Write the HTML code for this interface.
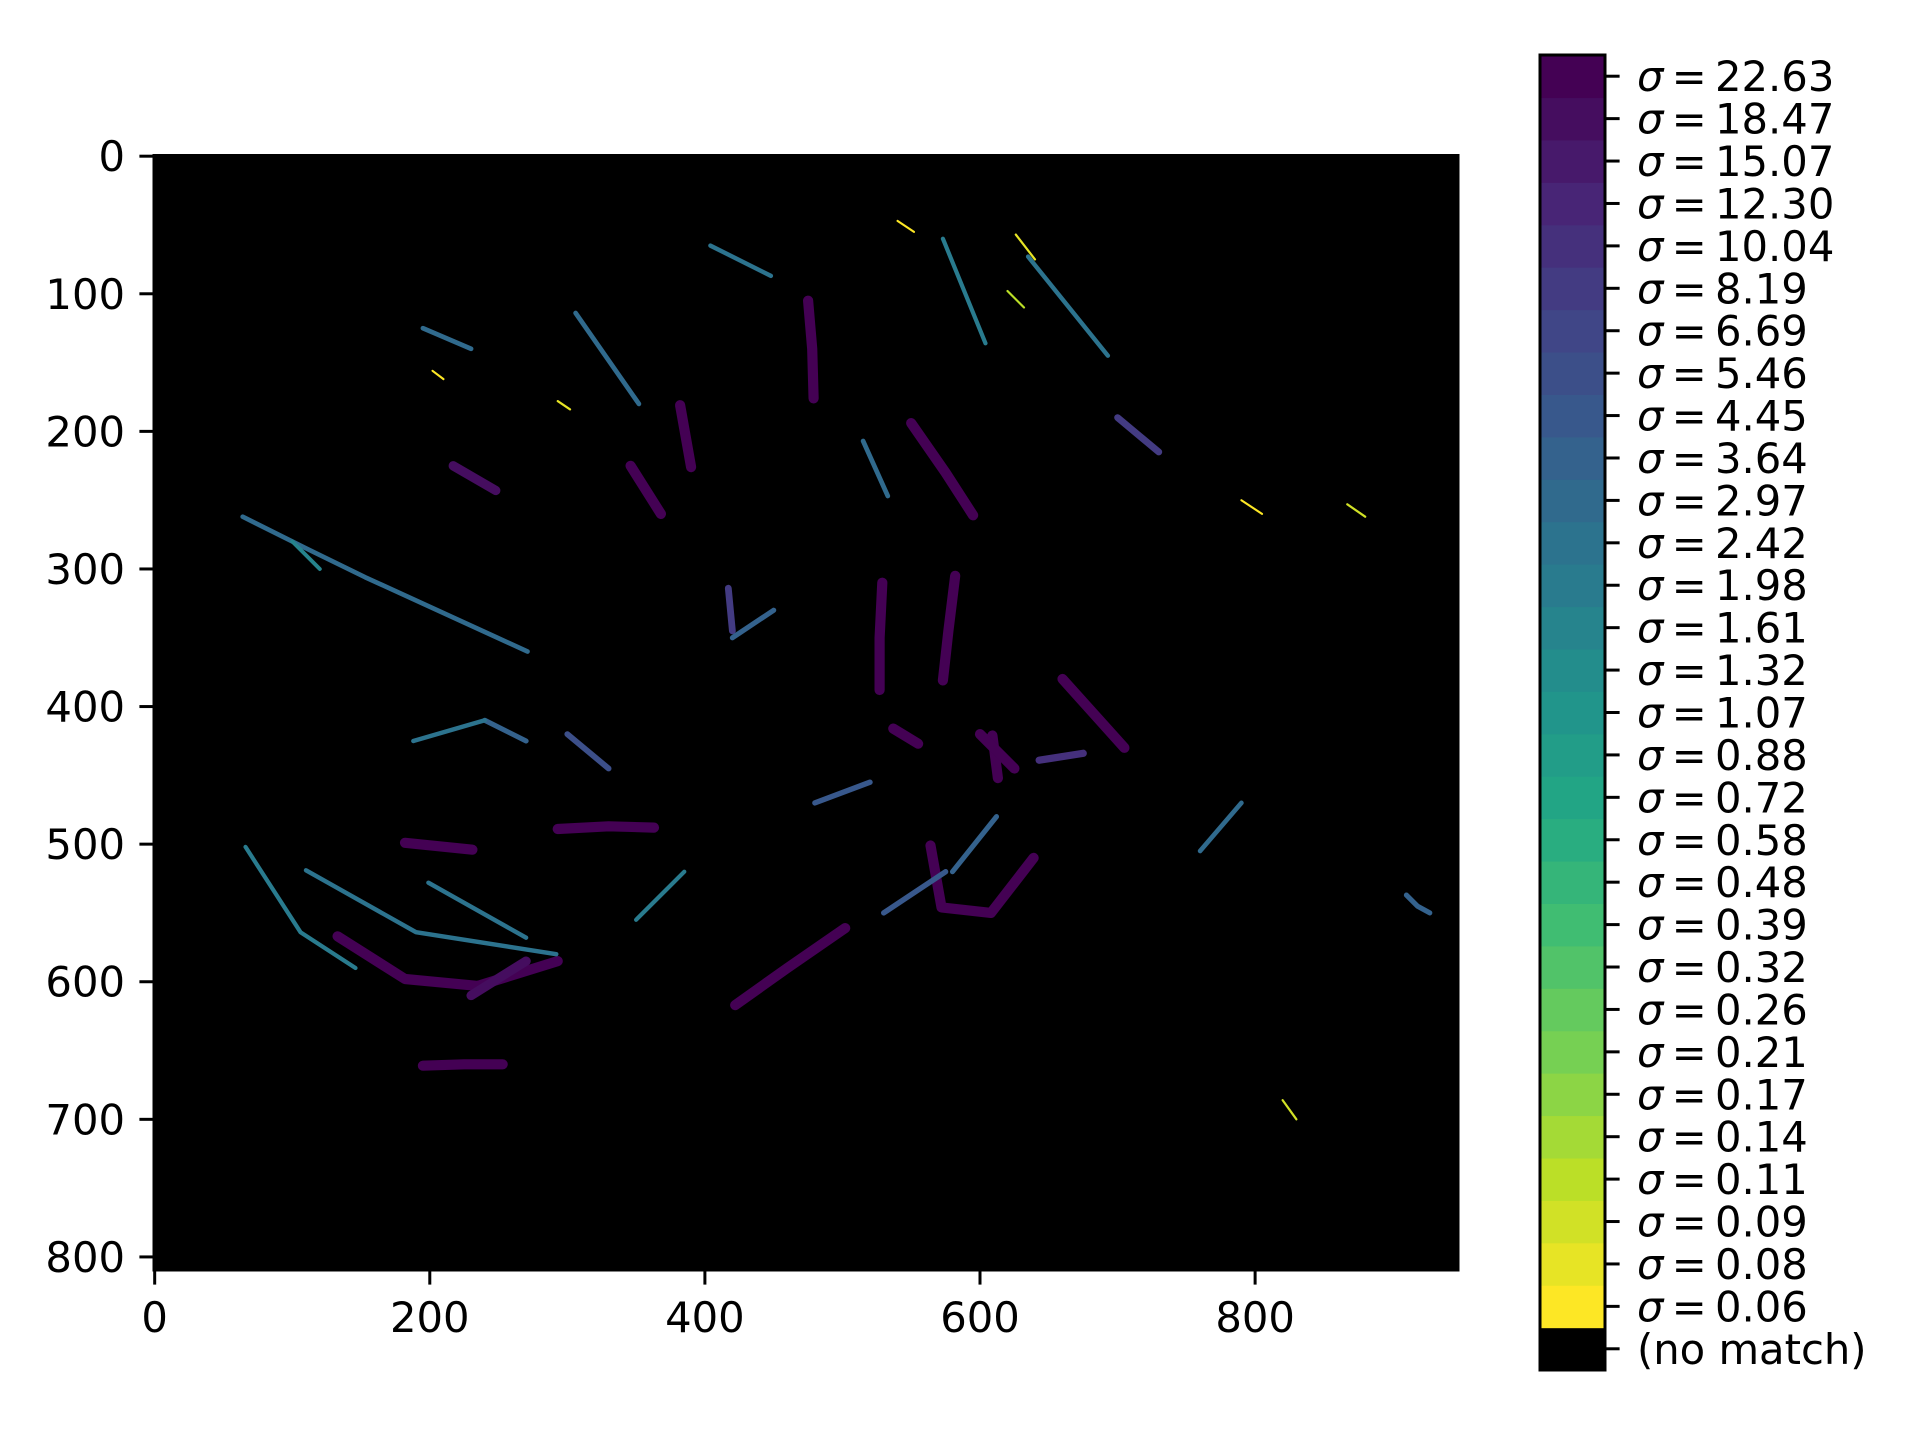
<!DOCTYPE html>
<html><head><meta charset="utf-8">
<style>
html,body{margin:0;padding:0;background:#fff;}
svg{display:block;font-family:"DejaVu Sans","Liberation Sans",sans-serif;}
</style></head>
<body>
<svg id="chart" width="1920" height="1440" viewBox="0 0 1920 1440" xmlns="http://www.w3.org/2000/svg">
<rect width="1920" height="1440" fill="#fff"/>
<g id="plot"></g>
<g id="axes"></g>
<g id="cbar"></g>
</svg>
<script>
// ---- data ----
const xTicks = [0, 200, 400, 600, 800];
const yTicks = [0, 100, 200, 300, 400, 500, 600, 700, 800];
const sigmaLabels = ["0.06","0.08","0.09","0.11","0.14","0.17","0.21","0.26","0.32","0.39","0.48","0.58","0.72","0.88","1.07","1.32","1.61","1.98","2.42","2.97","3.64","4.45","5.46","6.69","8.19","10.04","12.30","15.07","18.47","22.63"];
// vessel segments in image pixel coordinates; sigma index into sigmaLabels
const vesselX = [
 [133,182,235,293],[195,225,253],[182,231],[293,330,363],[422,460,502],[529,527,527],[582,577,573],
 [550,575,595],[475,478,479],[564,572,608,639],[643,675],[382,390],[346,368],[217,248],[417,420],
 [609,613],[537,555],[64,110,153,271],[66,106,146],[110,190,292],[199,270],[306,352],[573,604],
 [635,693],[515,533],[580,612],[910,918,927],[195,230],[404,448],[530,575],[300,330],[240,270],
 [540,552],[626,640],[790,805],[867,880],[202,210],[293,302],[620,632],[760,790],[188,240],
 [420,450],[480,520],[350,385],[600,625],[660,705],[230,270],[100,120],[820,830],[700,730]
];
const vesselY = [
 [567,598,603,585],[661,660,660],[499,504],[489,487,488],[617,590,561],[310,350,388],[305,345,381],
 [194,230,261],[105,140,176],[501,546,550,510],[439,434],[181,226],[225,260],[225,243],[314,345],
 [421,452],[416,427],[262,285,306,360],[502,564,590],[519,564,580],[528,568],[114,180],[60,136],
 [73,145],[207,247],[520,480],[537,545,550],[125,140],[65,87],[550,520],[420,445],[410,425],
 [47,55],[57,75],[250,260],[253,262],[156,162],[178,184],[98,110],[505,470],[425,410],
 [350,330],[470,455],[555,520],[420,445],[380,430],[610,585],[280,300],[686,700],[190,215]
];
const vesselSigma = [
 29,29,29,29,29,29,29,29,29,29,25,29,29,28,24,29,29,19,17,18,18,19,17,18,19,20,20,19,18,
 21,22,20,0,1,0,2,0,1,3,19,18,20,21,17,29,29,28,16,2,24
];
// ---- layout ----
const AX={l:154,r:1458,t:155.5,b:1270}, IMW=948, IMH=810;
const sx=v=>AX.l+(v+0.5)/IMW*(AX.r-AX.l);
const sy=v=>AX.t+(v+0.5)/IMH*(AX.b-AX.t);
const NS="http://www.w3.org/2000/svg";
function mk(tag,attrs,parent){const e=document.createElementNS(NS,tag);for(const k in attrs)e.setAttribute(k,attrs[k]);parent.appendChild(e);return e;}
const stops=["#440154","#482475","#414487","#355f8d","#2a788e","#21918c","#22a884","#44bf70","#7ad151","#bddf26","#fde725"];
function hex(h){return [1,3,5].map(i=>parseInt(h.substr(i,2),16));}
function viridis(t){t=Math.max(0,Math.min(1,t));const p=t*10,i=Math.min(9,Math.floor(p)),f=p-i;const a=hex(stops[i]),b=hex(stops[i+1]);return "rgb("+a.map((v,k)=>Math.round(v+(b[k]-v)*f)).join(",")+")";}
const colorFor=idx=>viridis(1-idx/(sigmaLabels.length-1));
const plot=document.getElementById('plot'), axes=document.getElementById('axes'), cbar=document.getElementById('cbar');
const bg=mk('rect',{x:AX.l,y:AX.t,width:AX.r-AX.l,height:AX.b-AX.t,fill:'#000'},plot);


const pxs=(AX.r-AX.l)/IMW;
vesselX.forEach((xs,i)=>{
  const s=parseFloat(sigmaLabels[vesselSigma[i]]);
  const d=xs.map((x,k)=>(k?'L':'M')+sx(x).toFixed(1)+' '+sy(vesselY[i][k]).toFixed(1)).join(' ');
  const p=mk('path',{d:d,fill:'none',stroke:colorFor(vesselSigma[i]),'stroke-width':((1.2+Math.sqrt(s)*1.3)*pxs).toFixed(1),'stroke-linecap':'round','stroke-linejoin':'round'},plot);
  
  
});
// axes frame and ticks
const fr=mk('rect',{x:AX.l,y:AX.t,width:AX.r-AX.l,height:AX.b-AX.t,fill:'none',stroke:'#000','stroke-width':3},axes);


xTicks.forEach(v=>{
  const x=sx(v);
  mk('line',{x1:x,x2:x,y1:AX.b,y2:AX.b+14.6,stroke:'#000','stroke-width':3},axes);
  const t=mk('text',{x:x,y:AX.b+62,'font-size':41.7,'text-anchor':'middle',fill:'#000'},axes);
  t.textContent=v;
  
  
});
yTicks.forEach(v=>{
  const y=sy(v);
  mk('line',{x1:AX.l-14.6,x2:AX.l,y1:y,y2:y,stroke:'#000','stroke-width':3},axes);
  const t=mk('text',{x:AX.l-29,y:y+15,'font-size':41.7,'text-anchor':'end',fill:'#000'},axes);
  t.textContent=v;
  
  
});
// colorbar
const CB={l:1540,r:1605,t:55,b:1370}, n=sigmaLabels.length+1, seg=(CB.b-CB.t)/n;
for(let k=0;k<n;k++){
  const y=CB.b-(k+1)*seg;
  const fill=k===0?'#000':colorFor(k-1);
  const r=mk('rect',{x:CB.l,y:y,width:CB.r-CB.l,height:seg+0.6,fill:fill},cbar);
  
  
  const yc=y+seg/2;
  mk('line',{x1:CB.r,x2:CB.r+14.6,y1:yc,y2:yc,stroke:'#000','stroke-width':3},cbar);
  const t=mk('text',{x:1637,y:yc+15,'font-size':41.7,fill:'#000'},cbar);
  if(k===0){t.textContent='(no match)';}
  else{t.innerHTML='<tspan font-style="italic">σ</tspan><tspan>\u2009=\u2009'+sigmaLabels[k-1]+'</tspan>';}
  
  
}
const cf=mk('rect',{x:CB.l,y:CB.t,width:CB.r-CB.l,height:CB.b-CB.t,fill:'none',stroke:'#000','stroke-width':3},cbar);


</script>
</body></html>
